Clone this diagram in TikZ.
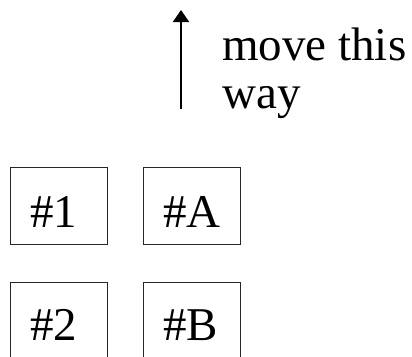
\documentclass[tikz,border=0pt]{standalone}
\usepackage{fontspec}
\setmainfont{Liberation Serif}
\usetikzlibrary{arrows.meta,calc}
\begin{document}
\begin{tikzpicture}[x=1pt,y=-1pt,
  box/.style={draw=black!85,line width=1pt,minimum width=97pt,minimum height=77pt,inner sep=0pt,anchor=north west},
  lbl/.style={font=\fontsize{47}{47}\selectfont,inner sep=0pt,anchor=base west},
  arr/.style={line width=2pt,-{Triangle[length=12pt,width=16pt]}}]
\useasboundingbox (0,0) rectangle (412,356);
\node[box] (b1) at (10,167) {};
\node[box] (bA) at (143,167) {};
\node[box] (b2) at (10,282) {};
\node[box] (bB) at (143,282) {};
\node[lbl] (t1) at ($(b1.north west)+(20,60)$) {\#1};
\node[lbl] (tA) at ($(bA.north west)+(20,60)$) {\#A};
\node[lbl] (t2) at ($(b2.north west)+(20,58)$) {\#2};
\node[lbl] (tB) at ($(bB.north west)+(20,58)$) {\#B};
\coordinate (s) at (181,109);
\coordinate (e) at (181,10);
\draw[arr] (s) -- (e);
\node[lbl] (m1) at (222,60) {move this};
\node[lbl] (m2) at (222,108) {way};
\end{tikzpicture}
\end{document}
